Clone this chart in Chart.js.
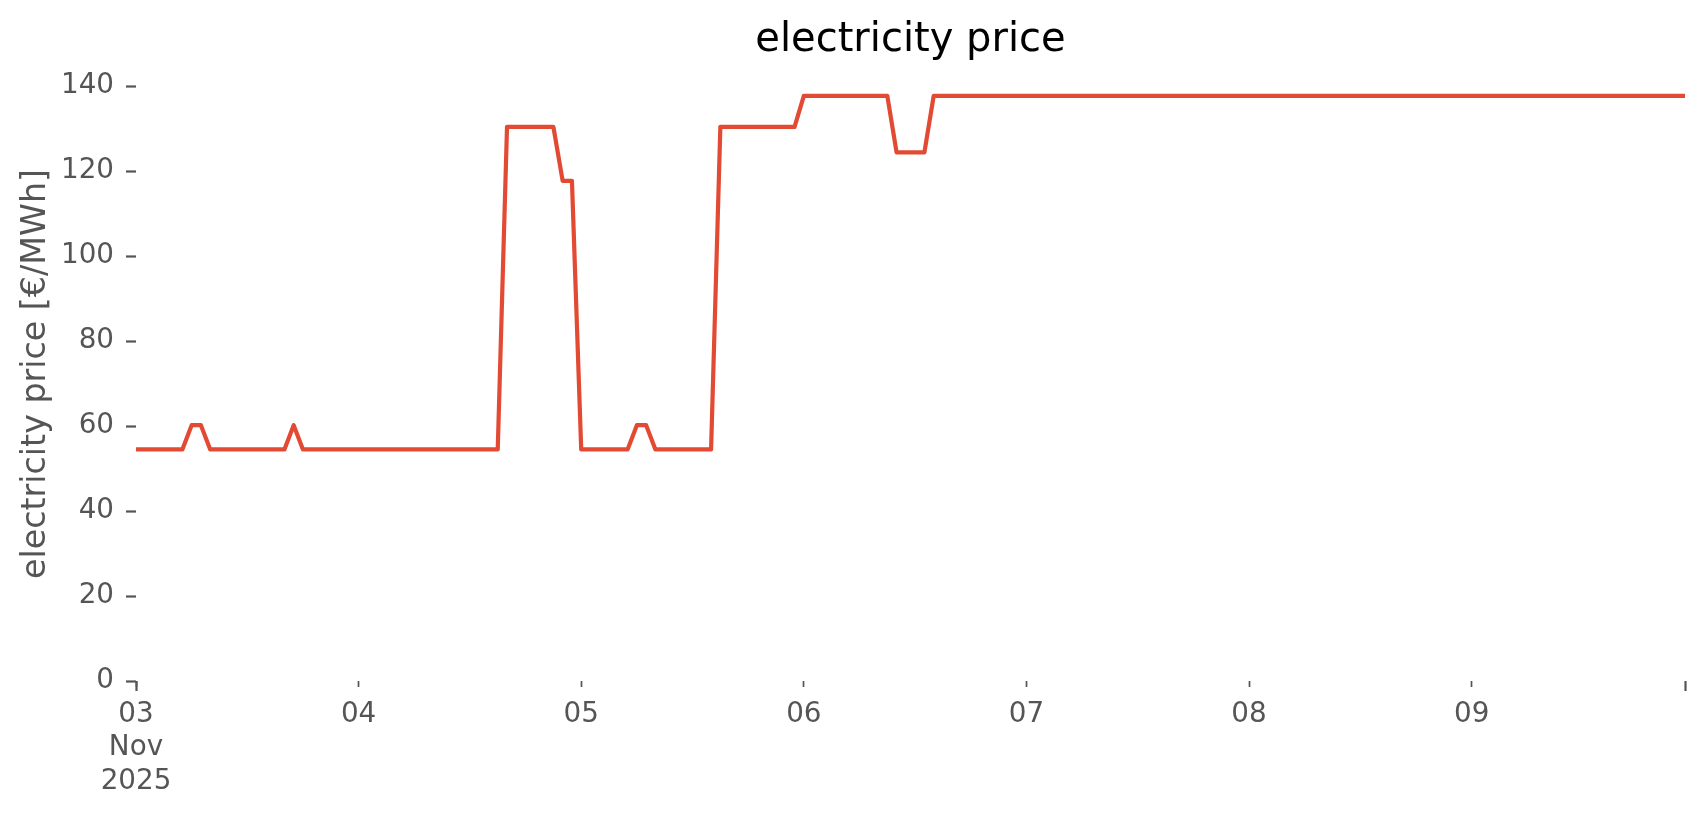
<!DOCTYPE html>
<html>
<head>
<meta charset="utf-8">
<script src="https://cdn.jsdelivr.net/npm/chart.js@4.4.1/dist/chart.umd.min.js"></script>
<style>
  html, body { margin: 0; padding: 0; background: #ffffff; }
  #wrap { width: 1706px; height: 815px; position: relative; }
  canvas { display: block; }
</style>
</head>
<body>
<div id="wrap"><canvas id="c" width="1706" height="815"></canvas></div>
<script>
// ---- data (hourly electricity price, €/MWh), one array per day ----
const nov03 = [54.5,54.5,54.5,54.5,54.5,54.5,60.2,60.2,54.5,54.5,54.5,54.5,54.5,54.5,54.5,54.5,54.5,60.2,54.5,54.5,54.5,54.5,54.5,54.5];
const nov04 = [54.5,54.5,54.5,54.5,54.5,54.5,54.5,54.5,54.5,54.5,54.5,54.5,54.5,54.5,54.5,54.5,130.4,130.4,130.4,130.4,130.4,130.4,117.7,117.7];
const nov05 = [54.5,54.5,54.5,54.5,54.5,54.5,60.2,60.2,54.5,54.5,54.5,54.5,54.5,54.5,54.5,130.4,130.4,130.4,130.4,130.4,130.4,130.4,130.4,130.4];
const nov06 = [137.7,137.7,137.7,137.7,137.7,137.7,137.7,137.7,137.7,137.7,124.4,124.4,124.4,124.4,137.7,137.7,137.7,137.7,137.7,137.7,137.7,137.7,137.7,137.7];
const nov07 = [137.7,137.7,137.7,137.7,137.7,137.7,137.7,137.7,137.7,137.7,137.7,137.7,137.7,137.7,137.7,137.7,137.7,137.7,137.7,137.7,137.7,137.7,137.7,137.7];
const nov08 = [137.7,137.7,137.7,137.7,137.7,137.7,137.7,137.7,137.7,137.7,137.7,137.7,137.7,137.7,137.7,137.7,137.7,137.7,137.7,137.7,137.7,137.7,137.7,137.7];
const nov09 = [137.7,137.7,137.7,137.7,137.7,137.7,137.7,137.7,137.7,137.7,137.7,137.7,137.7,137.7,137.7,137.7,137.7,137.7,137.7,137.7,137.7,137.7,137.7,137.7];

// x tick positions (hours since 2025-11-03 00:00) and labels
const dayTickHours = [0, 24, 48, 72, 96, 120, 144];
const dayTickLabels = [['03', 'Nov', '2025'], '04', '05', '06', '07', '08', '09'];
const majorTickHours = [0, 167];
const yTickValues = [0, 20, 40, 60, 80, 100, 120, 140];

const titleText = 'electricity price';
const yAxisTitle = 'electricity price [€/MWh]';

const prices = [].concat(nov03, nov04, nov05, nov06, nov07, nov08, nov09);
const points = prices.map((v, i) => ({ x: i, y: v }));

const FONT = "'DejaVu Sans', 'Liberation Sans', sans-serif";
const TICK_COLOR = '#555555';

new Chart(document.getElementById('c'), {
  type: 'line',
  data: {
    datasets: [{
      data: points,
      borderColor: '#E24A33',
      backgroundColor: '#E24A33',
      borderWidth: 4.2,
      pointRadius: 0,
      pointHoverRadius: 0,
      tension: 0,
      borderJoinStyle: 'round',
      borderCapStyle: 'butt',
      fill: false
    }]
  },
  options: {
    responsive: false,
    animation: false,
    devicePixelRatio: 1,
    events: [],
    layout: { padding: { left: 0, right: 21, top: 0, bottom: 0 } },
    plugins: {
      legend: { display: false },
      tooltip: { enabled: false },
      title: {
        display: true,
        text: titleText,
        fullSize: false,
        color: '#000000',
        font: { family: FONT, size: 40, weight: 'normal', lineHeight: 1.2 },
        padding: { top: 17, bottom: 2 }
      }
    },
    scales: {
      x: {
        type: 'linear',
        min: 0,
        max: 167,
        position: 'bottom',
        border: { display: false },
        grid: {
          display: true,
          drawOnChartArea: false,
          drawTicks: true,
          tickLength: 6,
          tickWidth: 1.7,
          tickColor: TICK_COLOR
        },
        ticks: {
          autoSkip: false,
          maxRotation: 0,
          minRotation: 0,
          padding: 11,
          color: TICK_COLOR,
          font: { family: FONT, size: 27.8, lineHeight: 1.2 },
          callback: function (value) {
            const idx = dayTickHours.indexOf(value);
            return idx >= 0 ? dayTickLabels[idx] : '';
          }
        },
        afterBuildTicks: function (scale) {
          scale.ticks = dayTickHours.map(h => ({ value: h }));
        },
        afterFit: function (scale) { scale.height = 134; }
      },
      xMajor: {
        type: 'linear',
        min: 0,
        max: 167,
        position: 'bottom',
        weight: -1,
        border: { display: false },
        grid: {
          display: true,
          drawOnChartArea: false,
          drawTicks: true,
          tickLength: 10,
          tickWidth: 2.2,
          tickColor: TICK_COLOR
        },
        ticks: { display: false },
        afterBuildTicks: function (scale) {
          scale.ticks = majorTickHours.map(h => ({ value: h }));
        },
        afterFit: function (scale) { scale.height = 0; }
      },
      y: {
        type: 'linear',
        min: 0,
        max: 144.5,
        border: { display: false },
        grid: {
          display: true,
          drawOnChartArea: false,
          drawTicks: true,
          tickLength: 10,
          tickWidth: 2.2,
          tickColor: TICK_COLOR
        },
        ticks: {
          includeBounds: false,
          padding: 12,
          color: TICK_COLOR,
          font: { family: FONT, size: 27.8 }
        },
        afterBuildTicks: function (scale) {
          scale.ticks = yTickValues.map(v => ({ value: v }));
        },
        title: {
          display: true,
          text: yAxisTitle,
          color: TICK_COLOR,
          font: { family: FONT, size: 33.3, lineHeight: 1.2 },
          padding: { top: 16, bottom: 0 }
        },
        afterFit: function (scale) { scale.width = 136; }
      }
    }
  }
});
</script>
</body>
</html>
